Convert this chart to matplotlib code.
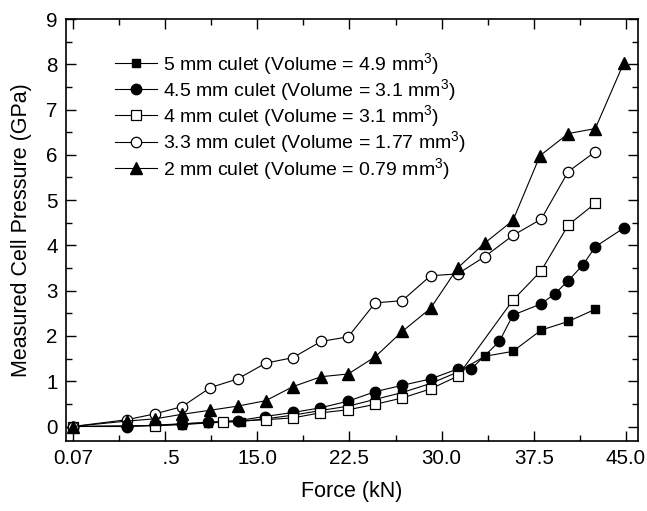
import matplotlib
matplotlib.use("Agg")
import matplotlib.pyplot as plt
from matplotlib.ticker import MultipleLocator, FixedLocator

plt.rcParams['font.family'] = ['Liberation Sans', 'DejaVu Sans']
plt.rcParams['mathtext.fontset'] = 'custom'
plt.rcParams['mathtext.rm'] = 'Liberation Sans'
plt.rcParams['mathtext.it'] = 'Liberation Sans:italic'

# --- data ---
x_5mm = [0, 4.4, 6.7, 8.9, 11.0, 13.7, 15.7, 17.9, 20.1, 22.4, 24.6, 26.8, 29.1, 31.3, 33.5, 35.8, 38.1, 40.3, 42.5]
y_5mm = [0, 0.01, 0.02, 0.04, 0.08, 0.11, 0.17, 0.25, 0.35, 0.45, 0.60, 0.75, 0.95, 1.20, 1.55, 1.66, 2.13, 2.32, 2.59]

x_45mm = [0, 4.4, 6.7, 8.9, 11.0, 13.4, 15.6, 17.9, 20.1, 22.4, 24.6, 26.8, 29.1, 31.3, 32.4, 34.7, 35.8, 38.1, 39.2, 40.3, 41.5, 42.5, 44.8]
y_45mm = [0, 0.0, 0.03, 0.06, 0.09, 0.13, 0.22, 0.31, 0.41, 0.56, 0.77, 0.91, 1.05, 1.27, 1.27, 1.88, 2.46, 2.71, 2.93, 3.22, 3.57, 3.97, 4.38]

x_4mm = [0, 6.7, 12.2, 15.7, 17.9, 20.1, 22.4, 24.6, 26.8, 29.1, 31.3, 35.8, 38.1, 40.3, 42.5]
y_4mm = [0, 0.02, 0.11, 0.15, 0.19, 0.30, 0.37, 0.49, 0.63, 0.83, 1.11, 2.79, 3.44, 4.45, 4.93]

x_33mm = [0, 4.4, 6.7, 8.9, 11.2, 13.4, 15.7, 17.9, 20.2, 22.4, 24.6, 26.8, 29.1, 31.3, 33.5, 35.8, 38.1, 40.3, 42.5]
y_33mm = [0, 0.15, 0.28, 0.44, 0.86, 1.05, 1.40, 1.52, 1.88, 1.98, 2.73, 2.78, 3.33, 3.37, 3.75, 4.22, 4.58, 5.63, 6.07]

x_2mm = [0, 4.4, 6.7, 8.9, 11.2, 13.4, 15.7, 17.9, 20.2, 22.4, 24.6, 26.8, 29.1, 31.3, 33.5, 35.8, 38.0, 40.3, 42.5, 44.8]
y_2mm = [0, 0.12, 0.17, 0.27, 0.36, 0.45, 0.57, 0.88, 1.10, 1.16, 1.54, 2.10, 2.61, 3.50, 4.05, 4.55, 5.98, 6.47, 6.58, 8.02]

labels = [
    "5 mm culet (Volume = 4.9 mm$^3$)",
    "4.5 mm culet (Volume = 3.1 mm$^3$)",
    "4 mm culet (Volume = 3.1 mm$^3$)",
    "3.3 mm culet (Volume = 1.77 mm$^3$)",
    "2 mm culet (Volume = 0.79 mm$^3$)",
]

xtick_pos = [0, 7.5, 15, 22.5, 30, 37.5, 45]
xtick_labels = ["0.07", "  .5", "15.0", "22.5", "30.0", "37.5", "45.0"]

fig = plt.figure(figsize=(6.47, 5.11), dpi=100)
ax = fig.add_axes([0.102, 0.137, 0.8846, 0.8258])

lw = 0.8
ax.plot(x_5mm, y_5mm, '-s', color='black', lw=lw, ms=6, mfc='black', mec='black', label=labels[0])
ax.plot(x_45mm, y_45mm, '-o', color='black', lw=lw, ms=7.5, mfc='black', mec='black', label=labels[1])
ax.plot(x_4mm, y_4mm, '-s', color='black', lw=lw, ms=6.5, mfc='white', mec='black', mew=0.9, label=labels[2])
ax.plot(x_33mm, y_33mm, '-o', color='black', lw=lw, ms=7.5, mfc='white', mec='black', mew=0.9, label=labels[3])
ax.plot(x_2mm, y_2mm, '-^', color='black', lw=lw, ms=8, mfc='black', mec='black', label=labels[4])

ax.set_xlim(-0.55, 46.0)
ax.set_ylim(-0.32, 9)

ax.xaxis.set_major_locator(FixedLocator(xtick_pos))
ax.set_xticklabels(xtick_labels)
ax.xaxis.set_minor_locator(MultipleLocator(3.75))
ax.yaxis.set_major_locator(MultipleLocator(1))
ax.yaxis.set_minor_locator(MultipleLocator(0.5))

ax.tick_params(which='both', direction='in', top=True, right=True, labelsize=14.8, width=1.0)
ax.tick_params(which='major', length=7, pad=6)
ax.tick_params(which='minor', length=4)
for s in ax.spines.values():
    s.set_linewidth(1.2)

ax.set_xlabel("Force (kN)", fontsize=15.5, labelpad=9)
ax.set_ylabel("Measured Cell Pressure (GPa)", fontsize=15.5, labelpad=10)

leg = ax.legend(loc='upper left', bbox_to_anchor=(0.085, 0.925), frameon=False,
                fontsize=14, handlelength=2.2, handletextpad=0.3, labelspacing=0.02,
                borderpad=0, borderaxespad=0)

fig.savefig("out.png", dpi=100)
